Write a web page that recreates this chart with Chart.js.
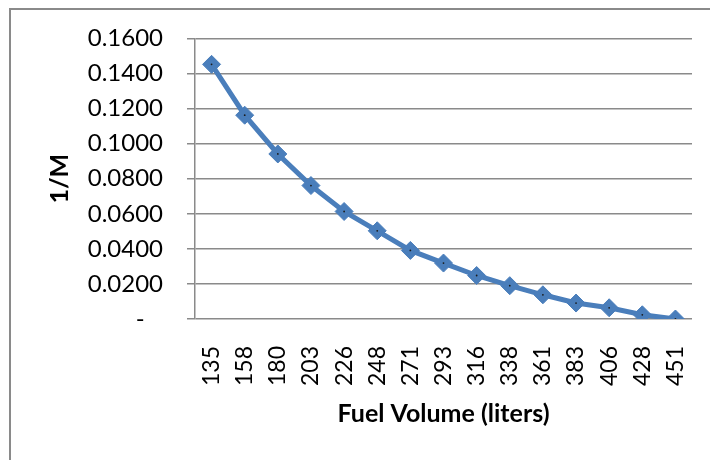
<!DOCTYPE html>
<html>
<head>
<meta charset="utf-8">
<script src="https://cdn.jsdelivr.net/npm/chart.js@4"></script>
<style>
  html, body { margin: 0; padding: 0; background: #fff; }
  #frame {
    position: absolute; left: 9px; top: 8px;
    width: 720px; height: 470px;
    border: 2px solid #8a8a8a;
  }
  #wrap { position: absolute; left: 0; top: 0; width: 710px; height: 460px; }
</style>
</head>
<body>
<div id="frame"></div>
<div id="wrap"><canvas id="chart" width="710" height="460"></canvas></div>
<script>
// fuel volume (liters) on x, 1/M on y
const volumes = ["135", "158", "180", "203", "226", "248", "271", "293", "316", "338", "361", "383", "406", "428", "451"];
const inverseM = [0.1452, 0.1162, 0.0941, 0.0761, 0.0613, 0.0503, 0.0391, 0.0319, 0.0248, 0.0190, 0.0138, 0.0091, 0.0064, 0.0024, 0.0000];
const yTicks = [0, 0.02, 0.04, 0.06, 0.08, 0.10, 0.12, 0.14, 0.16];

const blue = "#4A7EBB";
const gray = "#8a8a8a";

const ctx = document.getElementById("chart").getContext("2d");
new Chart(ctx, {
  type: "line",
  data: {
    labels: volumes,
    datasets: [
      {
        // tiny centre dots seen in the markers
        data: inverseM,
        showLine: false,
        pointStyle: "circle",
        pointRadius: 0.9,
        pointBackgroundColor: "#1b1b1b",
        pointBorderWidth: 0,
        order: -1,
      },
      {
        label: "1/M",
        data: inverseM,
        borderColor: blue,
        borderWidth: 5,
        tension: 0,
        pointStyle: "rectRot",
        pointRadius: 9,
        pointBackgroundColor: blue,
        pointBorderColor: blue,
        pointBorderWidth: 1,
        order: 0,
      },
    ],
  },
  options: {
    responsive: false,
    animation: false,
    layout: { padding: { left: 0, top: 38, right: 18, bottom: 0 } },
    plugins: { legend: { display: false }, tooltip: { enabled: false } },
    scales: {
      x: {
        offset: true,
        grid: { display: false },
        border: { display: false },
        ticks: {
          minRotation: 90,
          maxRotation: 90,
          autoSkip: false,
          padding: 19,
          color: "#000",
          font: { family: "Lato", size: 23 },
        },
        title: {
          display: true,
          text: "Fuel Volume (liters)",
          color: "#000",
          font: { family: "Lato", size: 25, weight: "bold" },
          padding: { top: 0, bottom: 31 },
        },
        afterFit: function (scale) {
          scale.height = 141;
          scale.paddingLeft = 0;
          scale.paddingRight = 0;
        },
      },
      y: {
        min: 0,
        max: 0.16,
        afterBuildTicks: function (scale) {
          scale.ticks = yTicks.map(function (v) { return { value: v }; });
        },
        grid: {
          color: gray,
          lineWidth: 1.5,
          drawTicks: true,
          tickLength: 8,
          tickColor: gray,
        },
        border: { display: true, color: gray, width: 1.5 },
        ticks: {
          padding: 24,
          color: "#000",
          font: { family: "Lato", size: 24 },
          callback: function (v) {
            return v === 0 ? "-   " : v.toFixed(4);
          },
        },
        title: {
          display: true,
          text: "1/M",
          color: "#000",
          font: { family: "Lato", size: 25, weight: "bold" },
          padding: { top: 45, bottom: 0 },
        },
        afterFit: function (scale) { scale.width = 195; },
      },
    },
  },
});
</script>
</body>
</html>
